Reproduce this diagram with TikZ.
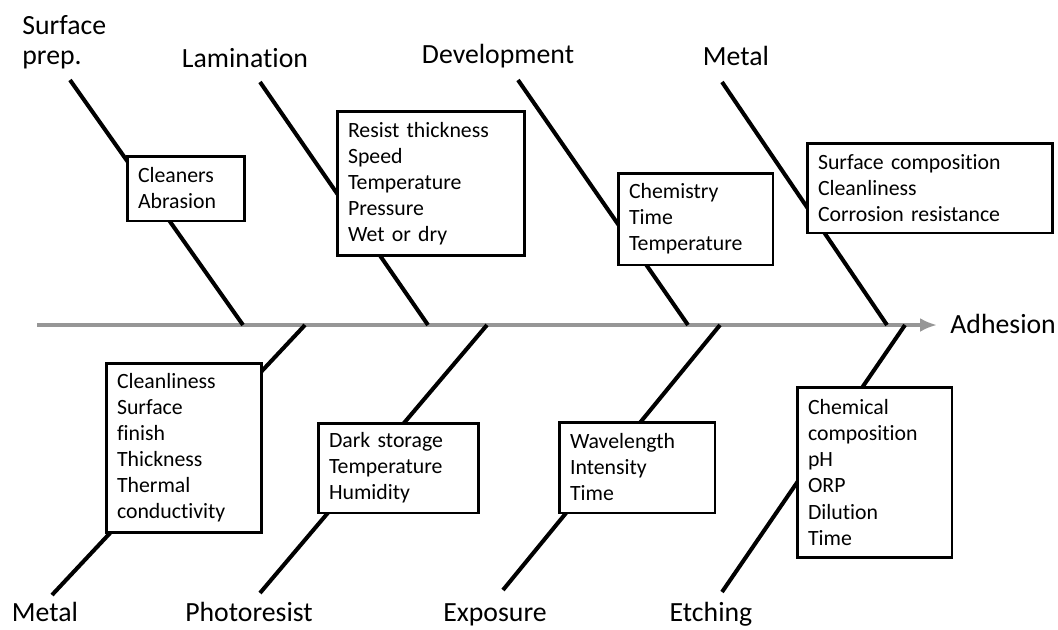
\documentclass[tikz,border=0pt]{standalone}
\usepackage{fontspec}
\setmainfont{Carlito}[Ligatures=NoCommon]
\usepackage{xcolor}
\usetikzlibrary{arrows.meta}
\definecolor{spinegray}{RGB}{150,150,150}
\newcommand{\causefont}{\fontsize{12.4}{14.8}\selectfont}
\newcommand{\labelfont}{\fontsize{15.8}{17}\selectfont}

\begin{document}
\begin{tikzpicture}[x=0.02cm, y=-0.02cm,
                          spine/.style={line width=2.3pt, spinegray, -{Latex[length=0.34cm, width=0.28cm]}},
                          bone/.style={line width=2.3pt, black},
                          causebox/.style={draw, line width=1.7pt, fill=white, align=left,
                                           inner xsep=0.22cm, inner ysep=0pt, font=\causefont},
                          category/.style={inner sep=0pt, font=\labelfont, anchor=base},
                         ]

\useasboundingbox (0,0) rectangle (1058,629);

% category labels
\node[category, anchor=west, align=left] (prep) at (22,42) {Surface\\prep.};
\node[category] (lamin) at (245,67) {Lamination};
\node[category] (devel) at (498,63) {Development};
\node[category] (metal-up) at (736,65) {Metal};
\node[category] (metal-down) at (45,621) {Metal};
\node[category] (photo) at (249,621) {Photoresist};
\node[category] (expo) at (495,621) {Exposure};
\node[category] (etch) at (711,621) {Etching};
\node[category, anchor=west, inner xsep=0.26cm] (adh) at (937,324) {Adhesion};

% spine
\coordinate (tail) at (37,325);
\draw[spine] (tail) -- (tail -| adh.west);

% bones
\coordinate (prep-end) at (70,80);       \coordinate (prep-spine) at (243,325);
\coordinate (lamin-end) at (260,82);     \coordinate (lamin-spine) at (428,325);
\coordinate (devel-end) at (518,80);     \coordinate (devel-spine) at (688,325);
\coordinate (metal-up-end) at (722,82);  \coordinate (metal-up-spine) at (887,325);
\coordinate (metal-down-end) at (52,595);\coordinate (metal-down-spine) at (305,325);
\coordinate (photo-end) at (260,593);    \coordinate (photo-spine) at (487,325);
\coordinate (expo-end) at (503,590);     \coordinate (expo-spine) at (720,325);
\coordinate (etch-end) at (722,592);     \coordinate (etch-spine) at (905,325);

\draw[bone] (prep-end) -- (prep-spine);
\draw[bone] (lamin-end) -- (lamin-spine);
\draw[bone] (devel-end) -- (devel-spine);
\draw[bone] (metal-up-end) -- (metal-up-spine);
\draw[bone] (metal-down-spine) -- (metal-down-end);
\draw[bone] (photo-spine) -- (photo-end);
\draw[bone] (expo-spine) -- (expo-end);
\draw[bone] (etch-spine) -- (etch-end);

% causes
\node[causebox, text width=1.92cm, minimum height=1.3cm] (prep-box) at (186,188.5) {Cleaners\\Abrasion};
\node[causebox, text width=3.32cm, minimum height=2.9cm] (lamin-box) at (431,183.5)
    {Resist thickness\\Speed\\Temperature\\Pressure\\Wet or dry};
\node[causebox, text width=2.66cm, minimum height=1.84cm] (devel-box) at (695.5,219)
    {Chemistry\\Time\\Temperature};
\node[causebox, text width=4.48cm, minimum height=1.8cm] (metal-up-box) at (930,188)
    {Surface composition\\Cleanliness\\Corrosion resistance};
\node[causebox, text width=2.68cm, minimum height=3.4cm] (metal-down-box) at (184,448)
    {Cleanliness\\Surface\\finish\\Thickness\\Thermal\\conductivity};
\node[causebox, text width=2.78cm, minimum height=1.8cm] (photo-box) at (398.5,468)
    {Dark storage\\Temperature\\Humidity};
\node[causebox, text width=2.68cm, minimum height=1.82cm] (expo-box) at (637,467.5)
    {Wavelength\\Intensity\\Time};
\node[causebox, text width=2.66cm, minimum height=3.42cm] (etch-box) at (874.5,472.5)
    {Chemical\\composition\\pH\\ORP\\Dilution\\Time};

\end{tikzpicture}
\end{document}
